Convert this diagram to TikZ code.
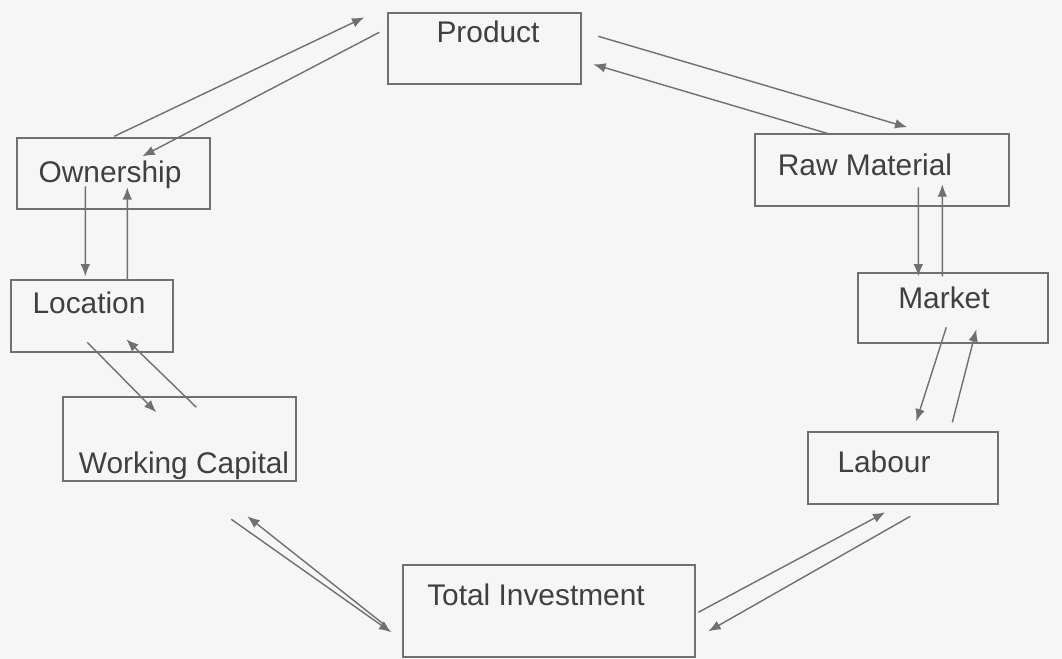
\documentclass[tikz,border=0pt]{standalone}
\usepackage{fontspec}
\setmainfont{Liberation Sans}
\usepackage{tikz}
\usetikzlibrary{calc}
\usetikzlibrary{arrows.meta}

\definecolor{paper}{RGB}{246,246,246}
\definecolor{ink}{RGB}{64,64,64}
\definecolor{rule}{RGB}{112,112,112}

\begin{document}
\begin{tikzpicture}[x=0.02cm, y=-0.02cm,
  box/.style={draw=rule, line width=0.8pt, inner sep=0pt},
  lbl/.style={font=\fontsize{17}{20}\selectfont, text=ink, anchor=base, inner sep=0pt},
  arr/.style={-{Latex[length=7pt,width=5.5pt]}, draw=rule, line width=0.8pt}]

% page
\fill[paper] (0,0) rectangle (1062,659);
\useasboundingbox (0,0) rectangle (1062,659);

%%%Boxes
\node[box, minimum width=3.86cm, minimum height=1.42cm] (prod) at (484.5,48.5) {};
\node[box, minimum width=3.86cm, minimum height=1.42cm] (own) at (113.5,173.5) {};
\node[box, minimum width=3.24cm, minimum height=1.44cm] (loc) at (92,316) {};
\node[box, minimum width=4.66cm, minimum height=1.68cm] (wc) at (179.5,439) {};
\node[box, minimum width=5.84cm, minimum height=1.84cm] (ti) at (549,611) {};
\node[box, minimum width=5.08cm, minimum height=1.44cm] (raw) at (882,170) {};
\node[box, minimum width=3.80cm, minimum height=1.40cm] (mkt) at (953,308) {};
\node[box, minimum width=3.80cm, minimum height=1.44cm] (lab) at (903,468) {};

%%%Labels
\node[lbl] (prodtxt) at (488,42) {Product};
\node[lbl] (owntxt) at (110,182) {Ownership};
\node[lbl] (loctxt) at (89,313) {Location};
\node[lbl] (wctxt) at (184,473) {Working Capital};
\node[lbl] (titxt) at (536,605) {Total Investment};
\node[lbl] (rawtxt) at (865,175) {Raw Material};
\node[lbl] (mkttxt) at (944,308) {Market};
\node[lbl] (labtxt) at (884,472) {Labour};

%%%Ownership <-> Product
\draw[arr] ($ (own.north west) + (98,-1) $) -- ($ (prod.north west) + (-23,5) $);
\draw[arr] ($ (prod.north west) + (-8,20) $) -- ($ (own.north west) + (126,19) $);

%%%Product <-> Raw Material
\draw[arr] ($ (prod.north west) + (211,24) $) -- ($ (raw.north west) + (153,-6) $);
\draw[arr] ($ (raw.north west) + (76,1) $) -- ($ (prod.north west) + (206,52) $);

%%%Raw Material <-> Market
\draw[arr] ($ (raw.north west) + (164,54) $) -- ($ (mkt.north west) + (61,4) $);
\draw[arr] ($ (mkt.north west) + (85,4) $) -- ($ (raw.north west) + (188,51) $);

%%%Market <-> Labour
\draw[arr] ($ (mkt.north west) + (89,55) $) -- ($ (lab.north west) + (109,-10) $);
\draw[arr] ($ (lab.north west) + (145,-9) $) -- ($ (mkt.north west) + (119,57) $);

%%%Labour <-> Total Investment
\draw[arr] ($ (lab.north west) + (103,85) $) -- ($ (ti.north west) + (306,67) $);
\draw[arr] ($ (ti.north west) + (296,48) $) -- ($ (lab.north west) + (78,81) $);

%%%Working Capital <-> Total Investment
\draw[arr] ($ (wc.north west) + (169,123) $) -- ($ (ti.north west) + (-11,68) $);
\draw[arr] ($ (ti.north west) + (-16,62) $) -- ($ (wc.north west) + (185,120) $);

%%%Ownership <-> Location
\draw[arr] ($ (own.north west) + (69,49) $) -- ($ (loc.north west) + (75,-3) $);
\draw[arr] ($ (loc.north west) + (117,0) $) -- ($ (own.north west) + (111,50) $);

%%%Location <-> Working Capital
\draw[arr] ($ (loc.north west) + (77,63) $) -- ($ (wc.north west) + (94,16) $);
\draw[arr] ($ (wc.north west) + (134,11) $) -- ($ (loc.north west) + (116,60) $);

\end{tikzpicture}
\end{document}
